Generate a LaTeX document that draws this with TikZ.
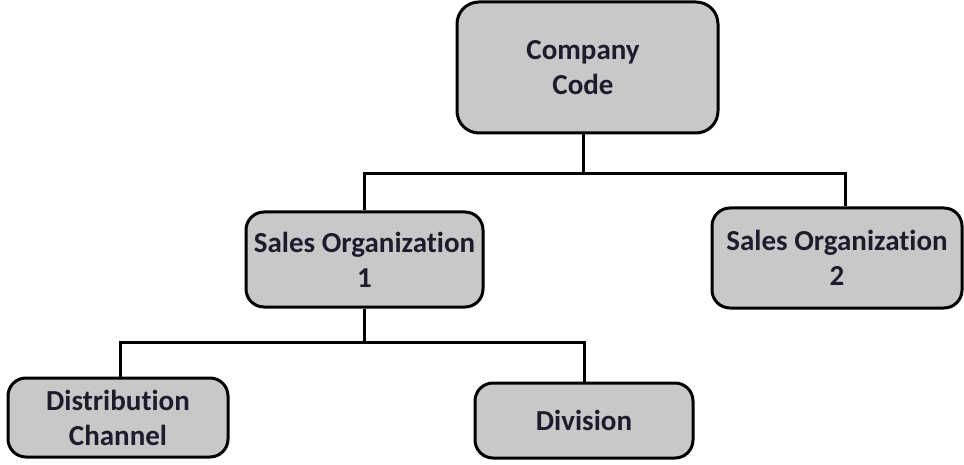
\documentclass[tikz,border=0pt]{standalone}
\usepackage{fontspec}
\setmainfont[Ligatures={NoCommon},RawFeature={-liga;-clig;-dlig}]{Carlito}
\definecolor{boxfill}{RGB}{200,200,200}
\definecolor{txt}{RGB}{28,28,45}
\begin{document}
\begin{tikzpicture}[x=1pt,y=-1pt,
  box/.style={draw=black, line width=3pt, fill=boxfill, rounded corners=18pt,
    inner sep=0pt, align=center, text=txt,
    font=\bfseries\fontsize{29}{35}\selectfont},
  conn/.style={draw=black, line width=3pt}]
\useasboundingbox (0,0) rectangle (964,465);
\node[box, minimum width=261pt, minimum height=131pt, rounded corners=22pt] (cc) at (587.5,67.5) {\hspace*{-9pt}Company\\\hspace*{-9pt}Code};
\node[box, minimum width=237pt, minimum height=95pt] (so1) at (364.5,259.5) {Sales Organization\\1};
\node[box, minimum width=250pt, minimum height=100pt] (so2) at (837,258) {Sales Organization\\2};
\node[box, minimum width=220pt, minimum height=79pt] (dc) at (118,417.5) {Distribution\\Channel};
\node[box, minimum width=218pt, minimum height=75pt] (div) at (584,420.5) {Division};
\draw[conn] ([xshift=-4.5pt]cc.south) -- ++(0,39) coordinate (j1);
\draw[conn] (so1.north) |- (j1) -| ([xshift=8pt]so2.north);
\draw[conn] (so1.south) -- ++(0,34) coordinate (j2);
\draw[conn] ([xshift=2pt]dc.north) |- (j2) -| (div.north);
\end{tikzpicture}
\end{document}
